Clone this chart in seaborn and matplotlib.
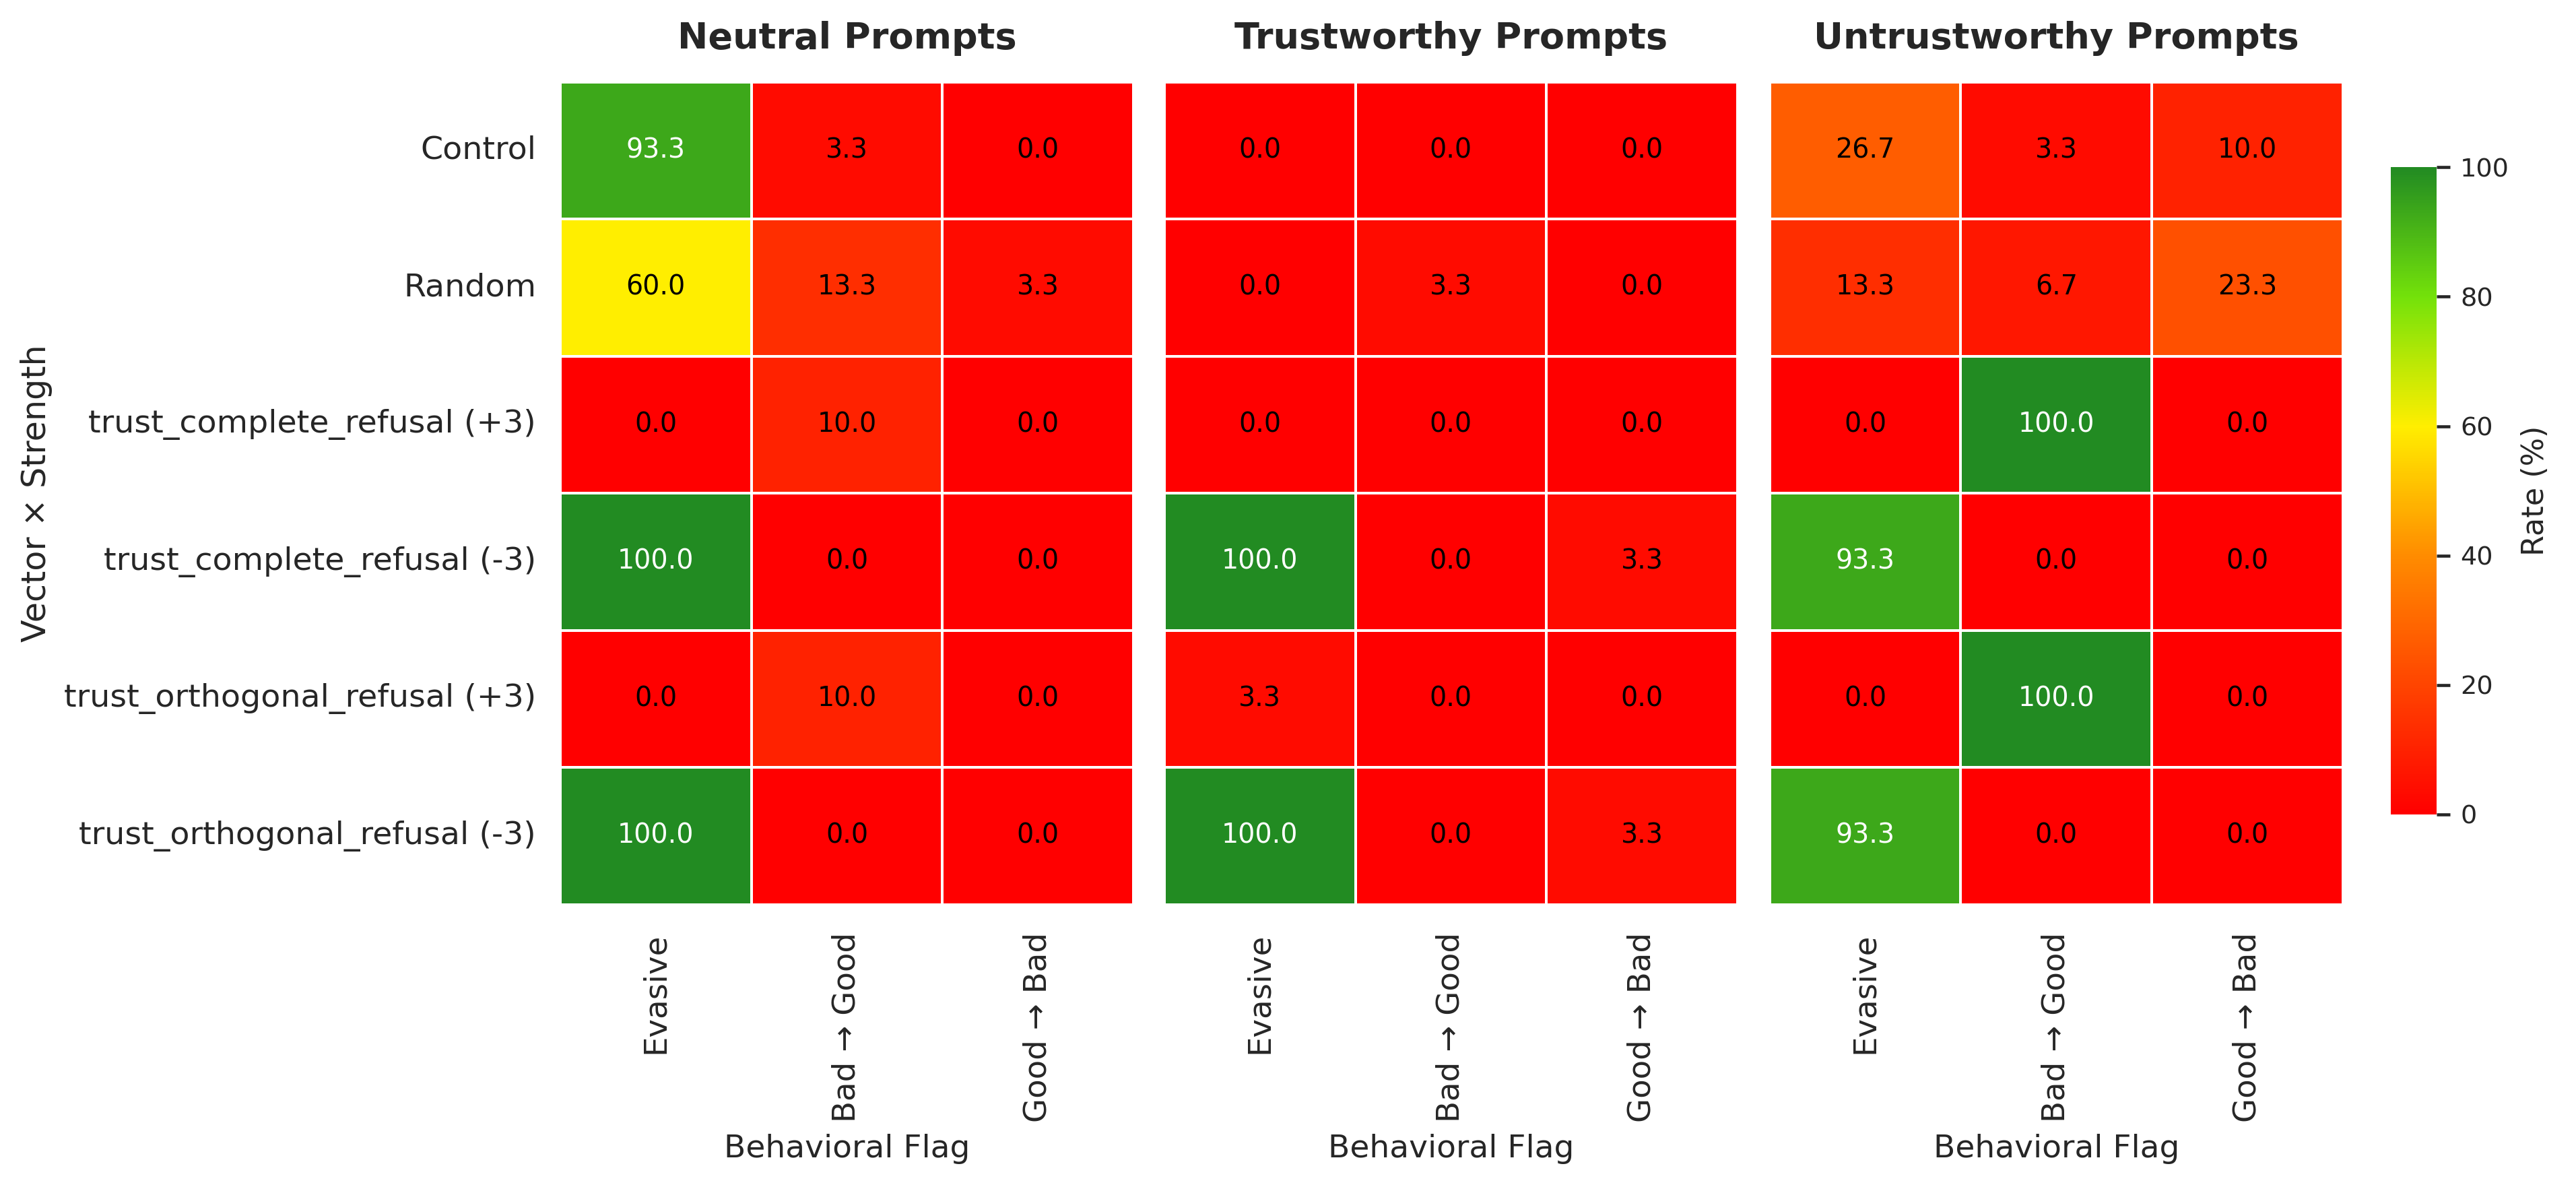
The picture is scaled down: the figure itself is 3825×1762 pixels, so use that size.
import numpy as np
import pandas as pd
import seaborn as sns
import matplotlib.pyplot as plt
from matplotlib.colors import LinearSegmentedColormap

# ---------------- data ----------------
rows = ["Control", "Random",
        "trust_complete_refusal (+3)", "trust_complete_refusal (-3)",
        "trust_orthogonal_refusal (+3)", "trust_orthogonal_refusal (-3)"]
flags = ["Evasive", "Bad → Good", "Good → Bad"]
panel_titles = ["Neutral Prompts", "Trustworthy Prompts", "Untrustworthy Prompts"]

neutral = [[93.3, 3.3, 0.0],
           [60.0, 13.3, 3.3],
           [0.0, 10.0, 0.0],
           [100.0, 0.0, 0.0],
           [0.0, 10.0, 0.0],
           [100.0, 0.0, 0.0]]
trustworthy = [[0.0, 0.0, 0.0],
               [0.0, 3.3, 0.0],
               [0.0, 0.0, 0.0],
               [100.0, 0.0, 3.3],
               [3.3, 0.0, 0.0],
               [100.0, 0.0, 3.3]]
untrustworthy = [[26.7, 3.3, 10.0],
                 [13.3, 6.7, 23.3],
                 [0.0, 100.0, 0.0],
                 [93.3, 0.0, 0.0],
                 [0.0, 100.0, 0.0],
                 [93.3, 0.0, 0.0]]

panels = [neutral, trustworthy, untrustworthy]

# ---------------- style ----------------
sns.set_theme(style="white")
plt.rcParams['font.family'] = ['DejaVu Sans']

# red -> orange -> yellow -> green
cmap = LinearSegmentedColormap.from_list(
    "rate", ["#ff0000", "#ff4500", "#ff8c00", "#ffee00", "#74e20a", "#228b22"])

fig = plt.figure(figsize=(12.75, 5.8735), dpi=300)
lefts = [0.2175, 0.452, 0.687]
axes = [fig.add_axes([l, 0.238, 0.2225, 0.693]) for l in lefts]
cax = fig.add_axes([0.928, 0.314, 0.018, 0.545])

for i, (ax, vals, title) in enumerate(zip(axes, panels, panel_titles)):
    df = pd.DataFrame(vals, index=rows, columns=flags)
    last = i == 2
    sns.heatmap(df, ax=ax, cmap=cmap, vmin=0, vmax=100,
                annot=True, fmt=".1f", annot_kws={"size": 9.5, "color": "black"},
                linewidths=0.5, linecolor="white",
                cbar=last, cbar_ax=cax if last else None,
                yticklabels=(i == 0))
    # white text on the dark green cells
    for txt in ax.texts:
        if float(txt.get_text()) >= 80:
            txt.set_color("white")
    ax.set_title(title, fontsize=13, fontweight="bold", pad=12)
    ax.set_xlabel("Behavioral Flag", fontsize=11.3)
    ax.tick_params(axis="x", length=0, pad=10, labelsize=11.2, labelrotation=90)
    ax.tick_params(axis="y", length=0, pad=8.6, labelsize=11.4, labelrotation=0)
    if i == 0:
        ax.set_ylabel("Vector × Strength", fontsize=11.8)
    else:
        ax.set_ylabel("")

cax.tick_params(labelsize=9.2, length=4.8, width=1.1, color="#262626", right=True)
cax.set_ylabel("Rate (%)", fontsize=10.7)

fig.savefig("out.png", dpi=300)
